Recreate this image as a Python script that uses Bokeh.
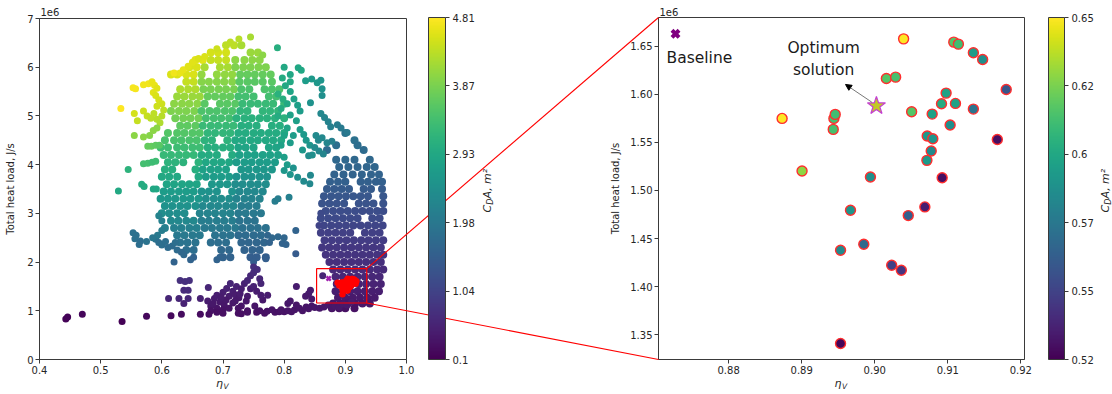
import math
from bokeh.plotting import figure
from bokeh.models import (ColumnDataSource, LinearColorMapper, ColorBar, FixedTicker,
                          NumeralTickFormatter, Label, Arrow, NormalHead, Range1d, GridBox)
from bokeh.palettes import Viridis256
from bokeh.embed import file_html
from bokeh.resources import INLINE

# ------------------------------------------------------------------ data
# Left panel: eta_V (x), total heat load in units of 1e6 J/s (y), C_D A in m^2 (colour)
# rows: (heat load, [(C_D A, [eta_V, ...]), ...])
MAIN_ROWS = [
    (6.45, [(4.35, [0.705, 0.718]), (4.2, [0.73])]),
    (6.3, [(4.5, [0.68, 0.692, 0.705]), (4.1, [0.745, 0.757])]),
    (6.15, [(4.6, [0.655, 0.667]), (4.4, [0.68, 0.692, 0.705]), (4.0, [0.72, 0.735, 0.748, 0.76])]),
    (6.0, [(4.55, [0.645, 0.657]), (4.2, [0.67, 0.695, 0.708]), (3.9, [0.72, 0.733, 0.745, 0.758, 0.77])]),
    (5.85, [(4.55, [0.615, 0.625, 0.64, 0.652]), (4.05, [0.665, 0.69, 0.703, 0.715]), (3.7, [0.728, 0.74, 0.752, 0.765, 0.778])]),
    (5.7, [(4.4, [0.64, 0.652]), (3.95, [0.665, 0.677, 0.69, 0.702, 0.715]), (3.6, [0.727, 0.74, 0.752, 0.765, 0.78])]),
    (5.55, [(4.25, [0.63, 0.643, 0.655]), (3.85, [0.668, 0.68, 0.693, 0.705, 0.718]), (3.5, [0.73, 0.743, 0.768, 0.78, 0.792])]),
    (5.4, [(4.1, [0.625, 0.637, 0.65, 0.662]), (3.7, [0.675, 0.687, 0.7, 0.712]), (3.4, [0.725, 0.737, 0.75, 0.775, 0.787])]),
    (5.25, [(4.0, [0.62, 0.633, 0.645, 0.658]), (3.6, [0.67, 0.695, 0.707, 0.72]), (3.3, [0.732, 0.745, 0.757, 0.77, 0.782, 0.8])]),
    (5.1, [(3.9, [0.615, 0.628, 0.64, 0.653]), (3.5, [0.665, 0.678, 0.69, 0.703, 0.715]), (3.2, [0.728, 0.74, 0.765, 0.777, 0.79])]),
    (4.95, [(3.8, [0.622, 0.635, 0.647, 0.66]), (3.4, [0.672, 0.685, 0.697, 0.71]), (3.1, [0.722, 0.735, 0.747, 0.76, 0.772, 0.785, 0.8])]),
    (4.8, [(3.65, [0.63, 0.642, 0.655]), (3.3, [0.667, 0.68, 0.692, 0.705, 0.717]), (3.05, [0.73, 0.742, 0.755, 0.78, 0.793])]),
    (4.65, [(3.55, [0.61, 0.625, 0.637, 0.65, 0.662]), (3.2, [0.675, 0.687, 0.7, 0.712]), (3.0, [0.725, 0.737, 0.75, 0.762, 0.775, 0.787, 0.8])]),
    (4.5, [(3.45, [0.605, 0.62, 0.632, 0.645, 0.657]), (3.15, [0.67, 0.682, 0.707]), (2.95, [0.72, 0.732, 0.745, 0.757, 0.77, 0.782, 0.795])]),
    (4.35, [(3.35, [0.598, 0.61, 0.625, 0.637, 0.65, 0.662]), (3.05, [0.675, 0.687, 0.7, 0.712]), (2.85, [0.725, 0.737, 0.75, 0.775, 0.787])]),
    (4.2, [(3.25, [0.603, 0.615, 0.628, 0.64, 0.652]), (3.0, [0.665, 0.677, 0.69, 0.715]), (2.8, [0.727, 0.74, 0.752, 0.765, 0.777, 0.79])]),
    (4.05, [(3.15, [0.61, 0.622, 0.635, 0.66]), (2.9, [0.672, 0.685, 0.697, 0.71]), (2.7, [0.722, 0.735, 0.747, 0.76, 0.772, 0.785])]),
    (3.9, [(3.05, [0.605, 0.617, 0.655]), (2.8, [0.667, 0.68, 0.692, 0.705]), (2.6, [0.73, 0.742, 0.755, 0.767, 0.78])]),
    (3.75, [(2.95, [0.6, 0.612, 0.625, 0.66]), (2.7, [0.672, 0.685, 0.697, 0.71]), (2.5, [0.722, 0.735, 0.747, 0.76, 0.772])]),
    (3.6, [(2.85, [0.608, 0.62, 0.633, 0.645, 0.657]), (2.6, [0.682, 0.695, 0.707]), (2.4, [0.72, 0.732, 0.745, 0.757, 0.77])]),
    (3.45, [(2.7, [0.603, 0.615, 0.628, 0.64, 0.652]), (2.5, [0.665, 0.677, 0.69, 0.715]), (2.3, [0.727, 0.74, 0.752, 0.765])]),
    (3.3, [(2.6, [0.598, 0.61, 0.622, 0.635, 0.647, 0.66]), (2.4, [0.672, 0.685, 0.697, 0.71]), (2.2, [0.722, 0.735, 0.747, 0.76])]),
    (3.15, [(2.5, [0.605, 0.617, 0.63, 0.642, 0.655]), (2.3, [0.667, 0.68, 0.692, 0.705, 0.717]), (2.1, [0.73, 0.742, 0.755])]),
    (3.0, [(2.4, [0.6, 0.612, 0.625, 0.637]), (2.2, [0.662, 0.675, 0.687, 0.7, 0.712]), (2.0, [0.725, 0.737, 0.75, 0.762])]),
    (2.85, [(2.3, [0.615, 0.627, 0.64, 0.652]), (2.1, [0.665, 0.677, 0.69, 0.702, 0.715]), (1.9, [0.727, 0.74, 0.752])]),
    (2.7, [(2.15, [0.605, 0.62, 0.632, 0.645, 0.657]), (2.0, [0.67, 0.682, 0.695, 0.707, 0.72]), (1.85, [0.732, 0.745, 0.757, 0.77])]),
    (2.55, [(2.0, [0.625, 0.637, 0.65, 0.662]), (1.9, [0.687, 0.7, 0.712]), (1.75, [0.725, 0.737, 0.75, 0.762])]),
    (2.4, [(1.9, [0.63, 0.642, 0.655]), (1.8, [0.68, 0.692, 0.705]), (1.65, [0.73, 0.742, 0.755, 0.767])]),
    (2.25, [(1.8, [0.64, 0.652]), (1.7, [0.697, 0.71]), (1.6, [0.735, 0.748, 0.76])]),
    (2.1, [(1.6, [0.70, 0.712]), (1.5, [0.745, 0.755, 0.77])]),
]

RIGHT_ROWS = [
    (4.65, [(1.9, [0.9])]),
    (4.5, [(1.85, [0.915])]),
    (4.4, [(1.8, [0.885, 0.92])]),
    (4.3, [(1.75, [0.87, 0.93])]),
    (4.1, [(1.7, [0.885, 0.9, 0.915, 0.94])]),
    (3.95, [(1.65, [0.89, 0.905, 0.92, 0.935, 0.948])]),
    (3.8, [(1.6, [0.882, 0.897, 0.912, 0.927, 0.942, 0.955])]),
    (3.65, [(1.55, [0.875, 0.888, 0.9, 0.925, 0.937, 0.95, 0.96])]),
    (3.5, [(1.45, [0.87, 0.882, 0.894, 0.906, 0.93, 0.942, 0.96])]),
    (3.35, [(1.38, [0.865, 0.877, 0.889, 0.901, 0.913, 0.925, 0.937, 0.962])]),
    (3.2, [(1.3, [0.862, 0.874, 0.886, 0.898, 0.922, 0.934, 0.946, 0.962])]),
    (3.05, [(1.22, [0.868, 0.88, 0.892, 0.904, 0.916, 0.928, 0.94, 0.952, 0.962])]),
    (2.9, [(1.15, [0.86, 0.872, 0.884, 0.896, 0.908, 0.92, 0.944, 0.956])]),
    (2.75, [(1.08, [0.865, 0.877, 0.889, 0.901, 0.913, 0.925, 0.937, 0.949, 0.961])]),
    (2.6, [(1.0, [0.86, 0.872, 0.884, 0.896, 0.908, 0.932, 0.944, 0.956])]),
    (2.45, [(0.93, [0.866, 0.878, 0.89, 0.902, 0.914, 0.926, 0.938, 0.95, 0.962])]),
    (2.3, [(0.86, [0.862, 0.874, 0.886, 0.898, 0.91, 0.922, 0.934, 0.946, 0.958])]),
    (2.15, [(0.8, [0.868, 0.88, 0.892, 0.904, 0.916, 0.928, 0.94, 0.952, 0.962])]),
    (2.0, [(0.74, [0.874, 0.886, 0.898, 0.91, 0.922, 0.934, 0.946, 0.958])]),
    (1.85, [(0.68, [0.88, 0.892, 0.904, 0.916, 0.928, 0.94, 0.952, 0.962])]),
    (1.7, [(0.62, [0.884, 0.896, 0.908, 0.92, 0.932, 0.944, 0.956])]),
    (1.55, [(0.56, [0.886, 0.898, 0.91, 0.922, 0.934, 0.946, 0.958])]),
    (1.4, [(0.5, [0.884, 0.896, 0.908, 0.92, 0.932, 0.944, 0.955])]),
    (1.27, [(0.44, [0.888, 0.9, 0.912, 0.924, 0.936, 0.948])]),
    (1.15, [(0.38, [0.88, 0.892, 0.904, 0.916, 0.928, 0.94])]),
    (1.05, [(0.32, [0.878, 0.89, 0.9, 0.915])]),
]

# single points: (eta_V, heat load 1e6 J/s, C_D A)
YELLOW_PTS = [
    (0.533, 5.15, 4.81), (0.553, 5.58, 4.75), (0.557, 5.56, 4.75), (0.57, 5.64, 4.7), (0.578, 5.66, 4.7),
    (0.584, 5.7, 4.65), (0.588, 5.63, 4.65), (0.592, 5.57, 4.6), (0.586, 5.48, 4.6), (0.59, 5.42, 4.55),
    (0.595, 5.33, 4.5), (0.6, 5.25, 4.45), (0.592, 5.2, 4.45), (0.555, 5.05, 4.5), (0.56, 4.9, 4.4),
    (0.57, 5.1, 4.45), (0.576, 5.0, 4.4), (0.582, 4.95, 4.35), (0.587, 5.05, 4.35), (0.592, 4.93, 4.3),
    (0.597, 4.86, 4.25), (0.603, 5.12, 4.35), (0.6, 5.0, 4.3), (0.555, 4.6, 4.0), (0.57, 4.57, 4.0),
    (0.58, 4.6, 3.95), (0.586, 4.7, 4.0), (0.592, 4.75, 4.0), (0.577, 4.38, 3.7), (0.583, 4.38, 3.7),
    (0.59, 4.4, 3.65), (0.596, 4.4, 3.6), (0.57, 4.02, 3.4), (0.577, 4.03, 3.4), (0.584, 4.05, 3.35),
    (0.59, 4.07, 3.35), (0.545, 3.9, 3.15), (0.567, 3.6, 3.0), (0.571, 3.55, 3.0), (0.586, 3.5, 2.9),
    (0.591, 3.5, 2.9), (0.529, 3.46, 2.95), (0.62, 5.88, 4.7), (0.63, 5.88, 4.65), (0.635, 5.95, 4.65),
    (0.643, 6.02, 4.6), (0.65, 6.1, 4.6), (0.66, 6.18, 4.55), (0.67, 6.22, 4.55), (0.68, 6.3, 4.5),
    (0.69, 6.38, 4.45), (0.745, 6.62, 4.2), (0.726, 6.58, 4.3), (0.712, 6.52, 4.35), (0.765, 6.25, 4.0),
]
BLUE_LEFT_PTS = [
    (0.553, 2.6, 1.85), (0.558, 2.55, 1.85), (0.556, 2.48, 1.85), (0.565, 2.43, 1.8), (0.563, 2.36, 1.8),
    (0.59, 2.47, 1.85), (0.595, 2.4, 1.8), (0.6, 2.35, 1.8), (0.606, 2.42, 1.8), (0.61, 2.3, 1.75),
    (0.617, 2.33, 1.75), (0.622, 2.4, 1.8), (0.625, 2.25, 1.75), (0.632, 2.2, 1.7), (0.636, 2.15, 1.7),
    (0.595, 2.95, 2.2), (0.6, 2.85, 2.15), (0.62, 2.0, 1.6), (0.647, 2.05, 1.6), (0.652, 2.1, 1.6),
    (0.6, 2.65, 2.1), (0.593, 2.55, 2.0), (0.585, 2.5, 1.95), (0.575, 2.42, 1.9),
]
TEAL_GAP_PTS = [
    (0.789, 6.4, 3.05), (0.8, 6.0, 2.95), (0.81, 5.85, 2.9), (0.797, 5.78, 3.0), (0.802, 5.62, 2.95),
    (0.81, 5.5, 2.85), (0.816, 5.35, 2.8), (0.822, 5.22, 2.75), (0.826, 5.1, 2.7), (0.81, 5.02, 2.8),
    (0.82, 4.9, 2.75), (0.826, 4.72, 2.7), (0.832, 4.62, 2.65), (0.836, 4.5, 2.6), (0.842, 4.4, 2.55),
    (0.83, 4.3, 2.6), (0.846, 4.2, 2.45), (0.823, 5.99, 2.9), (0.828, 5.94, 2.9), (0.835, 5.72, 2.7),
    (0.845, 5.76, 2.65), (0.854, 5.68, 2.6), (0.86, 5.73, 2.55), (0.862, 5.56, 2.5), (0.862, 5.42, 2.45),
    (0.843, 5.27, 2.5), (0.86, 5.05, 2.3), (0.866, 4.97, 2.25), (0.872, 4.88, 2.2), (0.876, 4.78, 2.15),
    (0.887, 4.82, 2.1), (0.893, 4.75, 2.05), (0.903, 4.66, 2.0), (0.852, 4.6, 2.35), (0.856, 4.5, 2.3),
    (0.862, 4.55, 2.3), (0.87, 4.45, 2.25), (0.878, 4.48, 2.15), (0.85, 4.35, 2.35), (0.857, 4.28, 2.3),
    (0.864, 4.22, 2.25), (0.84, 4.18, 2.4), (0.8, 4.15, 2.75), (0.805, 4.0, 2.7), (0.8, 3.88, 2.6),
    (0.81, 3.8, 2.55), (0.815, 3.93, 2.5), (0.822, 3.74, 2.45), (0.832, 3.66, 2.35), (0.842, 3.61, 2.3),
    (0.843, 3.78, 2.3), (0.808, 3.33, 2.15), (0.785, 3.25, 2.1), (0.79, 3.3, 2.1), (0.797, 2.38, 1.6),
    (0.803, 2.36, 1.6), (0.78, 2.5, 1.7), (0.79, 2.52, 1.7), (0.819, 2.65, 1.6), (0.819, 2.17, 1.45),
    (0.77, 2.07, 1.5), (0.776, 2.4, 1.6), (0.773, 2.55, 1.65), (0.8, 2.5, 1.65), (0.75, 2.0, 1.5),
    (0.69, 2.05, 1.6), (0.695, 2.1, 1.6), (0.795, 4.4, 2.8), (0.8, 4.6, 2.85), (0.805, 4.75, 2.85),
    (0.81, 4.45, 2.7), (0.815, 4.6, 2.7), (0.79, 5.0, 3.0), (0.795, 5.15, 3.0), (0.805, 5.25, 2.95),
    (0.81, 5.7, 2.95), (0.79, 5.45, 3.1), (0.798, 5.35, 3.05), (0.863, 1.72, 0.6), (0.857, 2.75, 1.05),
    (0.86, 3.0, 1.15),
]
LOWER_PTS = [
    (0.611, 1.25, 0.6), (0.628, 1.25, 0.6), (0.643, 1.25, 0.62), (0.63, 1.62, 0.75), (0.638, 1.6, 0.75),
    (0.645, 1.62, 0.75), (0.636, 1.42, 0.7), (0.643, 1.42, 0.7), (0.636, 1.15, 0.55), (0.663, 1.25, 0.55),
    (0.676, 1.48, 0.6), (0.675, 1.2, 0.45), (0.68, 1.1, 0.4), (0.686, 1.25, 0.45), (0.69, 1.32, 0.5),
    (0.69, 1.05, 0.35), (0.695, 1.18, 0.4), (0.7, 1.38, 0.5), (0.702, 1.12, 0.38), (0.706, 1.46, 0.55),
    (0.71, 1.3, 0.45), (0.712, 1.56, 0.6), (0.716, 1.4, 0.5), (0.72, 1.33, 0.45), (0.722, 1.5, 0.55),
    (0.726, 1.27, 0.42), (0.73, 1.45, 0.5), (0.735, 1.56, 0.55), (0.74, 1.62, 0.6), (0.745, 1.72, 0.65),
    (0.745, 1.45, 0.5), (0.75, 1.78, 0.7), (0.75, 1.9, 0.75), (0.756, 1.85, 0.72), (0.76, 1.66, 0.62),
    (0.762, 1.56, 0.58), (0.716, 1.16, 0.38), (0.73, 1.1, 0.36), (0.74, 1.0, 0.33), (0.752, 1.1, 0.36),
    (0.765, 1.22, 0.4), (0.68, 1.0, 0.33), (0.7, 1.02, 0.33), (0.762, 1.32, 0.45), (0.773, 1.32, 0.45),
    (0.705, 1.22, 0.4), (0.697, 1.28, 0.45), (0.684, 1.15, 0.4), (0.72, 1.2, 0.4), (0.728, 1.35, 0.45),
    (0.74, 1.3, 0.42), (0.75, 1.5, 0.55), (0.738, 1.2, 0.38), (0.755, 1.4, 0.48), (0.71, 1.05, 0.35),
    (0.725, 1.05, 0.33),
]
TAIL_PTS = [
    (0.443, 0.83, 0.15), (0.446, 0.87, 0.15), (0.47, 0.93, 0.18), (0.535, 0.78, 0.12), (0.575, 0.89, 0.2),
    (0.615, 0.90, 0.22), (0.632, 0.93, 0.25), (0.663, 0.93, 0.25), (0.677, 0.93, 0.27), (0.69, 0.97, 0.3),
    (0.70, 0.95, 0.3), (0.725, 0.95, 0.3), (0.73, 0.94, 0.3), (0.74, 0.97, 0.32), (0.755, 0.97, 0.32),
    (0.768, 0.95, 0.32), (0.772, 0.99, 0.33), (0.785, 0.97, 0.33), (0.792, 0.98, 0.33), (0.80, 0.98, 0.33),
    (0.806, 1.0, 0.34), (0.812, 0.98, 0.34), (0.817, 1.02, 0.35), (0.82, 1.12, 0.36), (0.825, 1.05, 0.36),
    (0.83, 1.0, 0.35), (0.836, 1.08, 0.37), (0.84, 1.04, 0.37), (0.845, 1.1, 0.38), (0.85, 1.07, 0.38),
    (0.858, 1.05, 0.38), (0.865, 1.08, 0.38), (0.872, 1.12, 0.4), (0.878, 1.06, 0.38), (0.883, 1.1, 0.4),
    (0.89, 1.08, 0.4), (0.896, 1.14, 0.42), (0.903, 1.12, 0.42), (0.91, 1.18, 0.45), (0.806, 1.15, 0.38),
    (0.81, 1.2, 0.4), (0.795, 1.02, 0.34), (0.78, 1.02, 0.34), (0.76, 1.0, 0.33), (0.845, 1.24, 0.42),
    (0.84, 1.35, 0.45), (0.843, 1.42, 0.46), (0.82, 1.5, 0.45), (0.835, 1.3, 0.44),
]

# Right panel (zoom on the selected designs)
eta_opt = [0.90395, 0.91082, 0.91145, 0.9135, 0.91477, 0.9135, 0.90977, 0.90914, 0.91105, 0.90786,
           0.90505, 0.90159, 0.90286, 0.91032, 0.90718, 0.90795, 0.90773, 0.90714, 0.90923, 0.89941,
           0.90686, 0.90459, 0.89668, 0.8985, 0.89532, 0.90232, 0.90364, 0.89532, 0.88732, 0.89005,
           0.89432, 0.89441, 0.89459, 0.91678, 0.918]
heat_opt = [1.6576, 1.6542, 1.6521, 1.6431, 1.6362, 1.5846, 1.6012, 1.5901, 1.5905, 1.5794,
            1.5818, 1.6164, 1.6178, 1.568, 1.5566, 1.5538, 1.541, 1.5313, 1.5133, 1.514,
            1.4829, 1.4739, 1.4794, 1.4441, 1.4379, 1.4223, 1.4171, 1.341, 1.5749, 1.5203,
            1.5635, 1.5749, 1.5791, 1.553, 1.605]
cda_opt = [0.65, 0.615, 0.61, 0.592, 0.585, 0.57, 0.595, 0.60, 0.595, 0.595,
           0.615, 0.615, 0.612, 0.585, 0.59, 0.588, 0.582, 0.59, 0.525, 0.585,
           0.53, 0.56, 0.588, 0.565, 0.582, 0.545, 0.54, 0.522, 0.65, 0.628,
           0.612, 0.612, 0.61, 0.525, 0.555]

baseline_eta, baseline_heat = 0.87273, 1.6629
optimum_eta, optimum_heat = 0.90023, 1.5880

LEFT_X_TICKS = [0.4, 0.5, 0.6, 0.7, 0.8, 0.9, 1.0]
LEFT_Y_TICKS = [0, 1, 2, 3, 4, 5, 6, 7]
RIGHT_X_TICKS = [0.88, 0.89, 0.90, 0.91, 0.92]
RIGHT_Y_TICKS = [1.35, 1.40, 1.45, 1.50, 1.55, 1.60, 1.65]
CB_LEFT_TICKS = [0.1, 1.042, 1.984, 2.926, 3.868, 4.81]
CB_RIGHT_TICKS = [0.52, 0.546, 0.572, 0.598, 0.624, 0.65]
ZOOM_BOX = (0.853, 0.935, 1.16, 1.865)   # x0, x1, y0, y1 on the left panel

# ------------------------------------------------------------------ layout / style
W, H = 1112, 394
FONT = "DejaVu Sans"
AX = "#3a3a3a"
TXT = "#262626"
LF = dict(l=39, r=406, t=18, b=359)
RF = dict(l=658, r=1024, t=17, b=359)
LX, LY = (0.4, 1.0), (0.0, 7.0)
RX, RY = (0.8704, 0.9205), (1.3243, 1.6798)


def flatten_rows(rows):
    xs, ys, cs = [], [], []
    for y, segs in rows:
        for c, xl in segs:
            for x in xl:
                xs.append(x); ys.append(y); cs.append(c)
    return xs, ys, cs


def flatten_pts(pts):
    return [p[0] for p in pts], [p[1] for p in pts], [p[2] for p in pts]


def make_fig(xr, yr, fr, bg):
    p = figure(width=W, height=H, x_range=Range1d(*xr), y_range=Range1d(*yr),
               output_backend="svg", toolbar_location=None, frame_align=False,
               min_border_left=fr["l"], min_border_right=W - fr["r"],
               min_border_top=fr["t"], min_border_bottom=H - fr["b"],
               background_fill_color=bg, border_fill_color=bg)
    p.grid.visible = False
    p.outline_line_color = AX
    p.outline_line_width = 1
    for ax in p.axis:
        ax.axis_line_color = AX
        ax.axis_line_width = 1
        ax.major_tick_line_color = AX
        ax.major_tick_in = 0
        ax.major_tick_out = 4
        ax.minor_tick_line_color = None
        ax.major_label_text_font = FONT
        ax.major_label_text_font_size = "10px"
        ax.major_label_text_color = TXT
        ax.major_label_standoff = 2
        ax.axis_label_text_font = FONT
        ax.axis_label_text_font_size = "10px"
        ax.axis_label_text_font_style = "normal"
        ax.axis_label_text_color = TXT
    return p


# ---------------- left panel
rx_, ry_, rc_ = flatten_rows(MAIN_ROWS + RIGHT_ROWS)
sx_, sy_, sc_ = flatten_pts(YELLOW_PTS + BLUE_LEFT_PTS + TEAL_GAP_PTS + LOWER_PTS + TAIL_PTS)
map_left = LinearColorMapper(palette=Viridis256, low=0.1, high=4.81)
pl = make_fig(LX, LY, LF, "white")
pl.xaxis.ticker = FixedTicker(ticks=LEFT_X_TICKS)
pl.xaxis.formatter = NumeralTickFormatter(format="0.0")
pl.yaxis.ticker = FixedTicker(ticks=LEFT_Y_TICKS)
pl.yaxis.formatter = NumeralTickFormatter(format="0")
pl.yaxis.axis_label = "Total heat load, J/s"
pl.yaxis.axis_label_standoff = 8
pl.scatter(x="x", y="y", source=ColumnDataSource(dict(x=rx_, y=ry_, c=rc_)), size=8,
           fill_color={"field": "c", "transform": map_left}, line_color=None)
pl.scatter(x="x", y="y", source=ColumnDataSource(dict(x=sx_, y=sy_, c=sc_)), size=7,
           fill_color={"field": "c", "transform": map_left}, line_color=None)
pl.scatter(x=eta_opt, y=heat_opt, size=6.5, fill_color="red", line_color=None)
pl.scatter(x=[baseline_eta], y=[baseline_heat], marker="x", size=6, line_color="#a020b0", line_width=2.5)
pl.quad(left=[ZOOM_BOX[0]], right=[ZOOM_BOX[1]], bottom=[ZOOM_BOX[2]], top=[ZOOM_BOX[3]],
        fill_color=None, line_color="red", line_width=1.2)

# ---------------- right panel
map_right = LinearColorMapper(palette=Viridis256, low=0.52, high=0.65)
pr = make_fig(RX, RY, RF, None)
pr.xaxis.ticker = FixedTicker(ticks=RIGHT_X_TICKS)
pr.xaxis.formatter = NumeralTickFormatter(format="0.00")
pr.yaxis.ticker = FixedTicker(ticks=RIGHT_Y_TICKS)
pr.yaxis.formatter = NumeralTickFormatter(format="0.00")
pr.yaxis.axis_label = "Total heat load, J/s"
pr.yaxis.axis_label_standoff = 6
pr.scatter(x="x", y="y", source=ColumnDataSource(dict(x=eta_opt, y=heat_opt, c=cda_opt)), size=10,
           fill_color={"field": "c", "transform": map_right}, line_color="#ff2e2e", line_width=1.4)
pr.scatter(x=[optimum_eta], y=[optimum_heat], marker="star", size=19,
           fill_color="#c2c926", line_color="#c43fd3", line_width=1.2)
pr.scatter(x=[baseline_eta], y=[baseline_heat], marker="x", size=10, line_color="#800080", line_width=4)
pr.add_layout(Label(x=0.8715, y=1.6382, text="Baseline", text_align="left", text_baseline="middle",
                    text_font=FONT, text_font_size="15.5px", text_color="#1a1a1a"))
pr.add_layout(Label(x=0.8930, y=1.6476, text="Optimum", text_align="center", text_baseline="middle",
                    text_font=FONT, text_font_size="15.5px", text_color="#1a1a1a"))
pr.add_layout(Label(x=0.8930, y=1.6257, text="solution", text_align="center", text_baseline="middle",
                    text_font=FONT, text_font_size="15.5px", text_color="#1a1a1a"))
pr.add_layout(Arrow(x_start=0.8996, y_start=1.5918, x_end=0.8960, y_end=1.6102,
                    line_color="#555555", line_width=0.8,
                    end=NormalHead(size=6, fill_color="black", line_color="black")))

# ---------------- overlay: connectors, colour bars, extra texts (pixel coordinates)
ov = figure(width=W, height=H, x_range=Range1d(0, W), y_range=Range1d(H, 0),
            x_axis_type=None, y_axis_type=None, output_backend="svg", toolbar_location=None,
            frame_align=False,
            min_border_left=0, min_border_right=0, min_border_top=0, min_border_bottom=0,
            background_fill_color=None, border_fill_color=None, outline_line_color=None)
ov.grid.visible = False


def left_px(x, y):
    sx = LF["l"] + (x - LX[0]) / (LX[1] - LX[0]) * (LF["r"] - LF["l"])
    sy = LF["b"] - (y - LY[0]) / (LY[1] - LY[0]) * (LF["b"] - LF["t"])
    return sx, sy


a = left_px(ZOOM_BOX[1], ZOOM_BOX[3])
b = left_px(ZOOM_BOX[1], ZOOM_BOX[2])
ov.segment(x0=[a[0], b[0]], y0=[a[1], b[1]], x1=[RF["l"], RF["l"]], y1=[RF["t"], RF["b"]],
           line_color="red", line_width=1.1)


def cbar(mapper, ticks, x, width):
    return ColorBar(color_mapper=mapper, ticker=FixedTicker(ticks=ticks),
                    formatter=NumeralTickFormatter(format="0.[00]"),
                    location=(x, H - LF["b"]), width=width, height=LF["b"] - RF["t"],
                    padding=0, margin=0, orientation="vertical",
                    major_tick_in=0, major_tick_out=4, major_tick_line_color=AX,
                    minor_tick_line_color=None, bar_line_color=AX, bar_line_width=1,
                    major_label_text_font=FONT, major_label_text_font_size="10px",
                    major_label_text_color=TXT, label_standoff=3,
                    background_fill_color=None, border_line_color=None)


ov.add_layout(cbar(map_left, CB_LEFT_TICKS, 428, 17))
ov.add_layout(cbar(map_right, CB_RIGHT_TICKS, 1048, 16))


def txt(x, y, s, size="10px", style="normal", align="left", angle=0.0):
    ov.add_layout(Label(x=x, y=y, text=s, text_font=FONT, text_font_size=size,
                        text_font_style=style, text_color=TXT, text_align=align,
                        text_baseline="middle", angle=angle))


for fr in (LF, RF):
    txt(fr["l"] + 1, 11, "1e6")
    xc = (fr["l"] + fr["r"]) / 2
    txt(xc - 7, 383, "η", size="11px", style="italic")
    txt(xc + 0.5, 386, "V", size="7.5px", style="italic")

for xc in (487, 1105):
    y0 = 190 + 22
    txt(xc, y0, "C", size="11px", style="italic", angle=math.pi / 2)
    txt(xc + 3, y0 - 7.7, "D", size="8px", style="italic", angle=math.pi / 2)
    txt(xc, y0 - 13.9, "A, m²", size="11px", style="italic", angle=math.pi / 2)

root = GridBox(children=[(pl, 0, 0), (pr, 0, 0), (ov, 0, 0)], spacing=0)
open("out.html", "w").write(file_html(root, INLINE))
